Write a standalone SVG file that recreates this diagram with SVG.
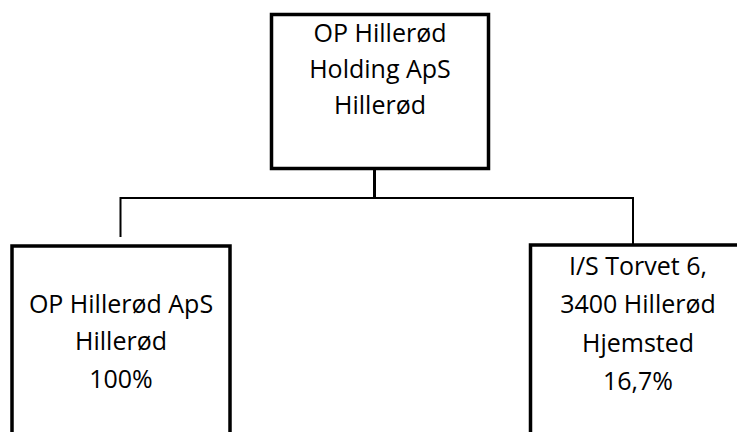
<svg xmlns="http://www.w3.org/2000/svg" width="737" height="432" viewBox="0 0 737 432">
<style>
.box{fill:#fff;stroke:#000;stroke-width:3.5}
.conn{fill:none;stroke:#000;stroke-width:2}
.stem{fill:none;stroke:#000;stroke-width:3}
text{font-family:"Open Sans","Noto Sans",sans-serif;font-size:25px;fill:#000;text-anchor:middle}
</style>
<rect width="737" height="432" fill="#fff"/>
<g id="connectors">
<line class="stem" x1="374.5" y1="168" x2="374.5" y2="198"/>
<polyline class="conn" points="120.5,237 120.5,198 633,198 633,244"/>
</g>
<g id="node-holding">
<rect class="box" x="271.5" y="14.5" width="217" height="154"/>
<text x="380" y="42">OP Hillerød</text>
<text x="380" y="78">Holding ApS</text>
<text x="380" y="114">Hillerød</text>
</g>
<g id="node-aps">
<rect class="box" x="12" y="246" width="218" height="200"/>
<text x="121" y="313">OP Hillerød ApS</text>
<text x="121" y="350">Hillerød</text>
<text x="121" y="388">100%</text>
</g>
<g id="node-torvet">
<rect class="box" x="530.5" y="245" width="218" height="200"/>
<text x="638" y="275">I/S Torvet 6,</text>
<text x="638" y="313">3400 Hillerød</text>
<text x="638" y="352">Hjemsted</text>
<text x="638" y="390">16,7%</text>
</g>
</svg>
